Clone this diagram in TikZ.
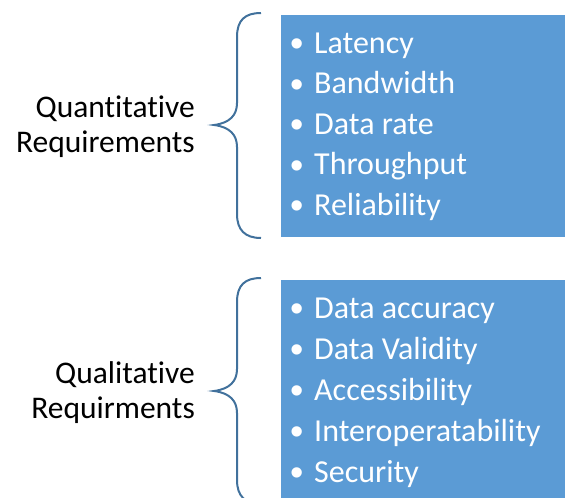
\documentclass[tikz,border=0pt]{standalone}
\usepackage{fontspec}
\setmainfont{Carlito}[Ligatures=NoCommon]
\newfontfamily\dotfont{Liberation Sans}
\usetikzlibrary{positioning}
\definecolor{boxblue}{HTML}{5B9BD5}
\definecolor{braceblue}{HTML}{41719C}
\tikzset{
  listbox/.style={fill=boxblue, inner sep=0pt, minimum width=284pt, minimum height=222pt, anchor=north west},
  item/.style={text=white, font=\fontsize{32}{38}\selectfont, anchor=base west, inner sep=0pt},
  group/.style={font=\fontsize{31.5}{35}\selectfont, align=right, anchor=east, inner sep=0pt},
  curly/.style={draw=braceblue, line width=2pt},
}
\newcommand{\bul}[1]{\makebox[24pt][l]{\raisebox{-3.7pt}{\dotfont\fontsize{38}{38}\selectfont\textbullet}}#1}

\begin{document}
\begin{tikzpicture}[x=1pt, y=-1pt]
	\clip (0,0) rectangle (565,498);
	
	\node[listbox] (quantbox) at (281,15) {};
	\node[listbox] (qualbox) at (281,280) {};
	
	\node[group] (quant) at (195,127) {Quantitative\\Requirements};
	\node[group] (qual) at (195,393) {Qualitative\\Requirments};
	
	\foreach \n/\t [count=\i from 0] in {lat/Latency, band/Bandwidth, rate/Data rate, thru/Throughput, rel/Reliability}
		\node[item] (\n) at (290, 53+40.5*\i) {\bul{\t}};
	\foreach \n/\t [count=\i from 0] in {acc/Data accuracy, val/Data Validity, access/Accessibility, inter/Interoperatability, sec/Security}
		\node[item] (\n) at (290, 318+41*\i) {\bul{\t}};
	
	% braces
	\draw[curly] (261,13) .. controls (245,13) and (237,20) .. (237,37) -- (237,103)
		.. controls (237,115) and (230,123) .. (214,125)
		.. controls (230,127) and (237,135) .. (237,147) -- (237,214)
		.. controls (237,230) and (245,238) .. (261,238);
	\draw[curly] (261,278) .. controls (245,278) and (237,285) .. (237,302) -- (237,369)
		.. controls (237,381) and (230,389) .. (214,391)
		.. controls (230,393) and (237,401) .. (237,413) -- (237,480)
		.. controls (237,496) and (245,504) .. (261,504);
\end{tikzpicture}
\end{document}
